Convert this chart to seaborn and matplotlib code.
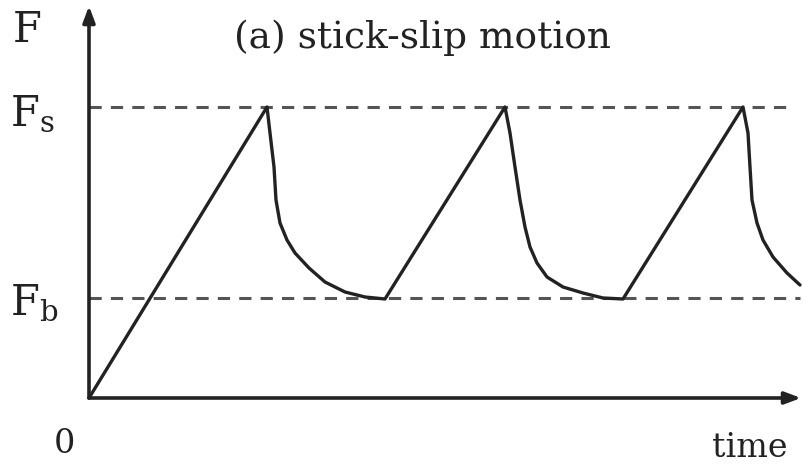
import matplotlib
matplotlib.use("Agg")
import matplotlib.pyplot as plt
import seaborn as sns
import pandas as pd

# Curve (time, force); Fb = 1, origin at 0
time_pts = [0.00, 1.78, 1.81, 1.85, 1.87, 1.91, 1.98, 2.06, 2.20, 2.36, 2.56, 2.76, 2.96,
            4.16, 4.21, 4.26, 4.31, 4.36, 4.41, 4.48, 4.58, 4.74, 4.94, 5.14, 5.34,
            6.54, 6.59, 6.61, 6.63, 6.68, 6.74, 6.84, 6.98, 7.11]
force_pts = [0.00, 2.91, 2.65, 2.31, 1.98, 1.75, 1.58, 1.45, 1.30, 1.16, 1.06, 1.01, 0.99,
             2.91, 2.65, 2.31, 1.98, 1.71, 1.51, 1.35, 1.21, 1.11, 1.05, 1.00, 0.99,
             2.91, 2.65, 2.31, 1.98, 1.75, 1.58, 1.41, 1.25, 1.13]

f_static = 2.91
f_break = 1.00
level_labels = ["F$_\\mathregular{s}$", "F$_\\mathregular{b}$"]
title_text = "(a) stick-slip motion"

sns.set_theme(style="white")
plt.rcParams["font.family"] = ["DejaVu Serif"]

df = pd.DataFrame({"time": time_pts, "F": force_pts})

fig = plt.figure(figsize=(8.04, 4.69), dpi=100)
ax = fig.add_axes([0, 0, 1, 1])
ax.set_xlim(-0.89, 7.15)
ax.set_ylim(-0.71, 3.98)
ax.axis("off")

# dashed reference levels
ax.plot([0, 7.01], [f_static, f_static], ls=(0, (4, 3)), lw=2.2, color="#555555")
ax.plot([0, 7.11], [f_break, f_break], ls=(0, (4, 3)), lw=2.2, color="#555555")

sns.lineplot(data=df, x="time", y="F", sort=False, color="#222222", lw=2.4, ax=ax)

# axes with arrow heads
arrow = dict(arrowstyle="-|>,head_length=0.8,head_width=0.3", lw=2.6, color="#222222",
             shrinkA=0, shrinkB=0)
ax.annotate("", xy=(0, 3.92), xytext=(0, 0), arrowprops=arrow)
ax.annotate("", xy=(7.12, 0), xytext=(0, 0), arrowprops=arrow)

ax.text(-0.62, 3.68, "F", fontsize=30, ha="center", va="center", color="#222222")
ax.text(-0.57, 2.84, level_labels[0], fontsize=30, ha="center", va="center", color="#222222")
ax.text(-0.55, 0.95, level_labels[1], fontsize=30, ha="center", va="center", color="#222222")
ax.text(-0.25, -0.46, "0", fontsize=24, ha="center", va="center", color="#222222")
ax.text(6.61, -0.50, "time", fontsize=24, ha="center", va="center", color="#222222")
ax.text(3.33, 3.6, title_text, fontsize=27, ha="center", va="center", color="#222222")

fig.savefig("out.png", dpi=100)
